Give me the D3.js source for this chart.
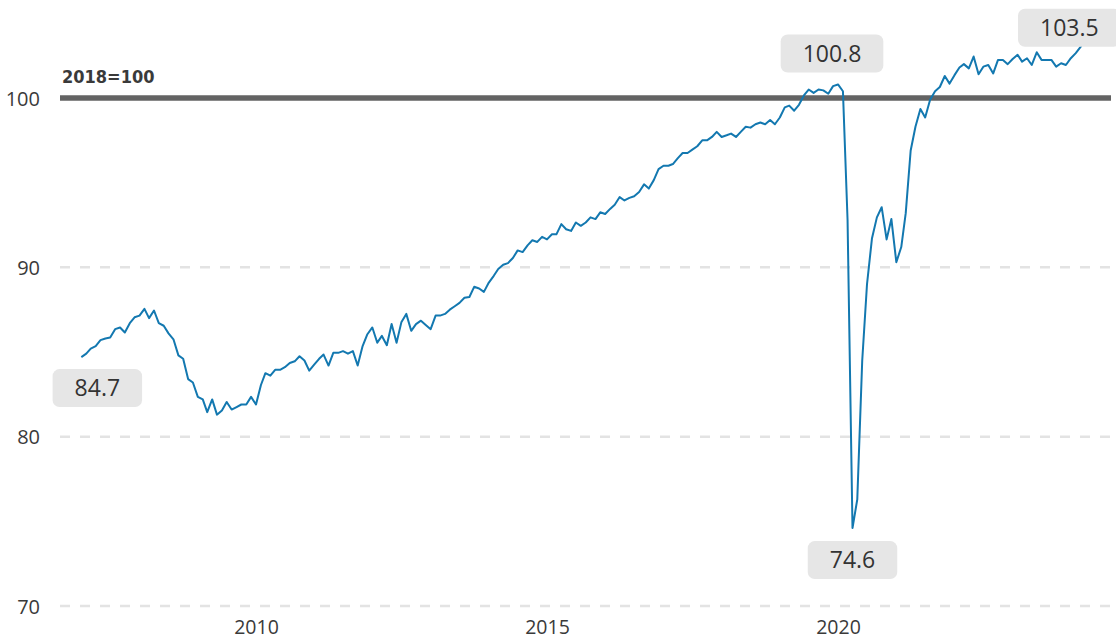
<!DOCTYPE html>
<html>
<head>
<meta charset="utf-8">
<script src="https://cdn.jsdelivr.net/npm/d3@7"></script>
<style>
  html, body { margin: 0; padding: 0; background: #fff; }
  svg { display: block; }
</style>
</head>
<body>
<svg id="chart" width="1116" height="638"></svg>
<script>
// ---------- DATA ----------
const startMonth = "2007-01";           // first observation (monthly series)
const values = [
  84.7, 84.9, 85.2, 85.35, 85.7, 85.8, 85.85, 86.35, 86.45, 86.15, 86.7, 87.05,
  87.15, 87.55, 87.0, 87.45, 86.7, 86.55, 86.1, 85.75, 84.8, 84.6, 83.4, 83.2,
  82.35, 82.2, 81.45, 82.2, 81.3, 81.55, 82.05, 81.6, 81.75, 81.9, 81.9, 82.35,
  81.9, 83.05, 83.75, 83.6, 83.95, 83.95, 84.1, 84.35, 84.45, 84.75, 84.5, 83.9,
  84.25, 84.6, 84.85, 84.2, 84.95, 84.95, 85.05, 84.9, 85.05, 84.2, 85.35, 86.05,
  86.45, 85.55, 85.95, 85.4, 86.65, 85.55, 86.75, 87.25, 86.25, 86.65, 86.85, 86.6,
  86.35, 87.15, 87.15, 87.25, 87.5, 87.7, 87.9, 88.2, 88.25, 88.85, 88.75, 88.55,
  89.1, 89.5, 89.9, 90.15, 90.25, 90.55, 91.0, 90.9, 91.3, 91.6, 91.5, 91.8,
  91.65, 91.95, 91.95, 92.55, 92.25, 92.15, 92.65, 92.45, 92.65, 92.95, 92.85, 93.25,
  93.15, 93.45, 93.7, 94.15, 93.95, 94.1, 94.2, 94.45, 94.9, 94.65, 95.15, 95.8,
  96.0, 96.0, 96.1, 96.45, 96.75, 96.75, 96.95, 97.15, 97.5, 97.5, 97.7, 98.0,
  97.7, 97.8, 97.9, 97.7, 98.0, 98.3, 98.25, 98.45, 98.55, 98.45, 98.7, 98.45,
  98.85, 99.45, 99.55, 99.25, 99.6, 100.15, 100.5, 100.3, 100.5, 100.45, 100.25, 100.7,
  100.8, 100.4, 92.8, 74.6, 76.3, 84.5, 89.0, 91.7, 92.95, 93.55, 91.65, 92.85,
  90.3, 91.2, 93.2, 96.9, 98.3, 99.35, 98.85, 99.9, 100.4, 100.65, 101.3, 100.85,
  101.35, 101.8, 102.0, 101.75, 102.45, 101.4, 101.85, 101.95, 101.45, 102.25, 102.25, 102.0,
  102.3, 102.55, 102.15, 102.35, 101.95, 102.7, 102.25, 102.25, 102.25, 101.85, 102.05, 101.95,
  102.35, 102.65, 103.0, 103.5
];
const yTicks = [70, 80, 90, 100];
const xTickYears = [2010, 2015, 2020];
const baseValue = 100;
const baseLabel = "2018=100";
// annotated observations: first, pre-pandemic peak, trough, last
const annotations = [
  { month: "2007-01", value: 84.7 },
  { month: "2020-01", value: 100.8 },
  { month: "2020-04", value: 74.6 },
  { month: "2024-04", value: 103.5 }
];

// ---------- BUILD ----------
const parseMonth = d3.timeParse("%Y-%m");
const t0 = parseMonth(startMonth);
const series = values.map((v, i) => ({ date: d3.timeMonth.offset(t0, i), value: v }));

const svg = d3.select("#chart");
const W = 1116, H = 638;
const plotLeft = 60, plotRight = 1111;

const x = d3.scaleTime()
  .domain([new Date(2010, 0, 1), new Date(2020, 0, 1)])
  .range([256, 838]);
const y = d3.scaleLinear()
  .domain([70, 100])
  .range([606, 98]);

// grid lines (dashed) for ticks below the base line
const grid = svg.append("g");
grid.selectAll("line")
  .data(yTicks.filter(t => t !== baseValue))
  .join("line")
  .attr("x1", plotLeft).attr("x2", plotRight - 1)
  .attr("y1", d => y(d)).attr("y2", d => y(d))
  .attr("stroke", "#e3e3e3")
  .attr("stroke-width", 2.5)
  .attr("stroke-dasharray", "10,10");

// base (=100) reference line
svg.append("line")
  .attr("x1", plotLeft).attr("x2", plotRight)
  .attr("y1", y(baseValue)).attr("y2", y(baseValue))
  .attr("stroke", "#636363")
  .attr("stroke-width", 5.5);

svg.append("text")
  .attr("x", 62).attr("y", 82.5)
  .attr("font-family", "'DejaVu Sans Condensed', 'DejaVu Sans', sans-serif")
  .attr("font-weight", "bold")
  .attr("font-size", 18)
  .attr("fill", "#3a3a3a")
  .text(baseLabel);

// y axis
const yAxis = svg.append("g")
  .attr("transform", `translate(${plotLeft},0)`)
  .call(d3.axisLeft(y).tickValues(yTicks).tickSize(0).tickPadding(20).tickFormat(d3.format("d")));
yAxis.select(".domain").remove();
yAxis.selectAll("text")
  .attr("font-family", "'Open Sans', sans-serif")
  .attr("font-size", 20)
  .attr("fill", "#3a3a3a")
  .attr("dy", "0.36em");

// x axis
const xAxis = svg.append("g")
  .attr("transform", `translate(0,${H})`)
  .call(d3.axisBottom(x)
    .tickValues(xTickYears.map(yr => new Date(yr, 0, 1)))
    .tickSize(0).tickPadding(0)
    .tickFormat(d3.timeFormat("%Y")));
xAxis.select(".domain").remove();
xAxis.selectAll("text")
  .attr("font-family", "'Open Sans', sans-serif")
  .attr("font-size", 19.5)
  .attr("fill", "#3a3a3a")
  .attr("y", -4.5)
  .attr("dy", 0);

// data line
const line = d3.line()
  .x(d => x(d.date))
  .y(d => y(d.value));
svg.append("path")
  .datum(series)
  .attr("d", line)
  .attr("fill", "none")
  .attr("stroke", "#1378b0")
  .attr("stroke-width", 2)
  .attr("stroke-linejoin", "round");

// annotation labels
const labelOffsets = [
  { dx: 16, dy: 31 },    // first: below-right
  { dx: -6, dy: -31 },   // peak: above
  { dx: 0, dy: 32 },     // trough: below
  { dx: -16, dy: -11 }   // last: above-left
];
const fmt = d3.format(".1f");
const ann = svg.append("g");
annotations.forEach((a, i) => {
  const px = x(parseMonth(a.month)) + labelOffsets[i].dx;
  const py = y(a.value) + labelOffsets[i].dy;
  const g = ann.append("g").attr("transform", `translate(${px},${py})`);
  const txt = g.append("text")
    .attr("text-anchor", "middle")
    .attr("dy", "0.36em")
    .attr("font-family", "'Open Sans', sans-serif")
    .attr("font-size", 23)
    .attr("fill", "#333")
    .text(fmt(a.value));
  const bb = txt.node().getBBox();
  const bw = bb.width + 44, bh = 38;
  g.insert("rect", "text")
    .attr("x", -bw / 2).attr("y", -bh / 2)
    .attr("width", bw).attr("height", bh)
    .attr("rx", 7).attr("ry", 7)
    .attr("fill", "#e6e6e6");
});
</script>
</body>
</html>
